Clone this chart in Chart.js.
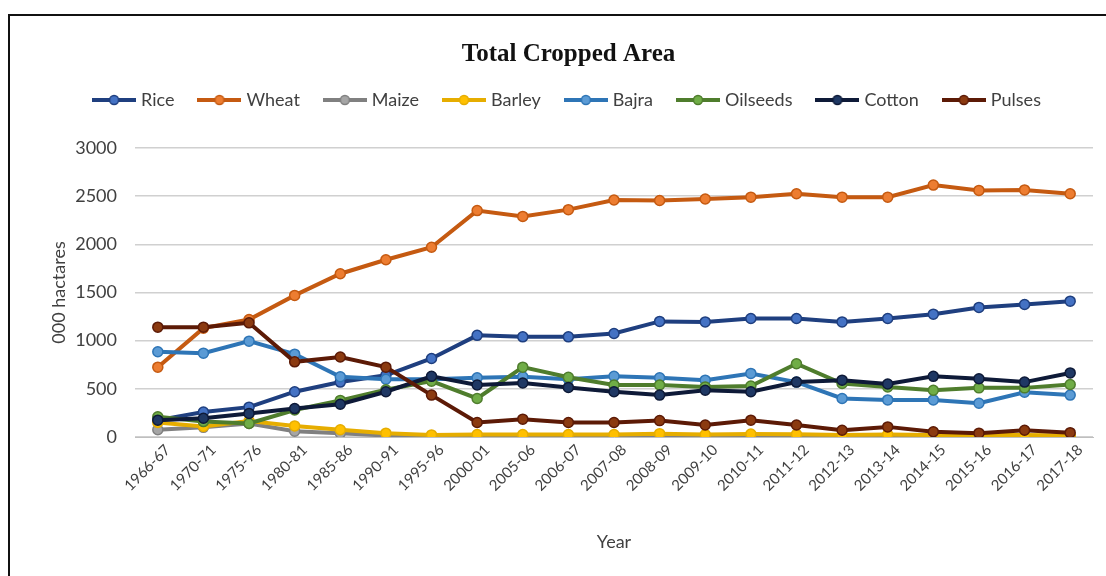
<!DOCTYPE html>
<html>
<head>
<meta charset="utf-8">
<title>Total Cropped Area</title>
<script src="https://cdn.jsdelivr.net/npm/chart.js@4.4.1/dist/chart.umd.min.js"></script>
<style>
  html, body { margin: 0; padding: 0; background: #fff; overflow: hidden; }
  #frame {
    position: absolute; left: 8px; top: 14px; width: 1200px; height: 700px;
    border-left: 2px solid #111; border-top: 2px solid #111; box-sizing: border-box;
  }
  #wrap { position: absolute; left: 0; top: 0; width: 1106px; height: 576px; }
</style>
</head>
<body>
<div id="frame"></div>
<div id="wrap"><canvas id="chart" width="1106" height="576"></canvas></div>
<script>
// Years (x axis categories)
const years = ['1966-67','1970-71','1975-76','1980-81','1985-86','1990-91','1995-96','2000-01',
  '2005-06','2006-07','2007-08','2008-09','2009-10','2010-11','2011-12','2012-13','2013-14',
  '2014-15','2015-16','2016-17','2017-18'];

// Area under each crop, in thousand hectares
const rice     = [175, 260, 310, 470, 570, 640, 815, 1055, 1040, 1040, 1075, 1200, 1195, 1230, 1230, 1195, 1230, 1275, 1345, 1375, 1410];
const wheat    = [725, 1130, 1220, 1470, 1695, 1840, 1970, 2350, 2290, 2360, 2460, 2455, 2470, 2490, 2525, 2490, 2490, 2615, 2560, 2565, 2525];
const maize    = [75, 100, 140, 60, 40, 15, 10, 8, 8, 8, 10, 12, 8, 10, 10, 6, 6, 5, 5, 5, 5];
const barley   = [150, 110, 165, 115, 75, 40, 22, 25, 25, 25, 25, 35, 25, 30, 28, 22, 25, 20, 20, 20, 15];
const bajra    = [885, 870, 995, 860, 625, 600, 600, 615, 625, 600, 630, 615, 590, 660, 570, 400, 385, 385, 350, 465, 435];
const oilseeds = [210, 160, 140, 280, 380, 490, 580, 400, 725, 620, 540, 540, 520, 530, 760, 555, 520, 485, 510, 510, 545];
const cotton   = [175, 195, 245, 295, 340, 470, 630, 540, 560, 515, 470, 435, 485, 470, 570, 590, 550, 630, 605, 570, 665];
const pulses   = [1140, 1140, 1185, 780, 830, 725, 435, 150, 185, 150, 150, 170, 125, 175, 125, 70, 105, 55, 40, 70, 45];

// Y axis ticks
const yTicks = [0, 500, 1000, 1500, 2000, 2500, 3000];

const series = [
  { label: 'Rice',     data: rice,     line: '#1f3f7f', fill: '#4472c4' },
  { label: 'Wheat',    data: wheat,    line: '#c55a11', fill: '#ed7d31' },
  { label: 'Maize',    data: maize,    line: '#808080', fill: '#a5a5a5' },
  { label: 'Barley',   data: barley,   line: '#e6ad00', fill: '#ffc000' },
  { label: 'Bajra',    data: bajra,    line: '#2e75b6', fill: '#5b9bd5' },
  { label: 'Oilseeds', data: oilseeds, line: '#4f7d2d', fill: '#70ad47' },
  { label: 'Cotton',   data: cotton,   line: '#0e1a38', fill: '#1f3864' },
  { label: 'Pulses',   data: pulses,   line: '#5c1a06', fill: '#8b3a10' }
];

const sans = "Lato, 'Open Sans', sans-serif";

// Legend swatch: short line with a marker in the middle
function swatch(line, fill) {
  const c = document.createElement('canvas');
  c.width = 44; c.height = 12;
  const g = c.getContext('2d');
  g.strokeStyle = line; g.lineWidth = 4;
  g.beginPath(); g.moveTo(0, 6); g.lineTo(44, 6); g.stroke();
  g.fillStyle = fill; g.lineWidth = 1.5;
  g.beginPath(); g.arc(22, 6, 4.5, 0, Math.PI * 2); g.fill(); g.stroke();
  return c;
}
const swatches = series.map(s => swatch(s.line, s.fill));

// Extra space between the legend and the plot
const legendGap = {
  id: 'legendGap',
  beforeInit(chart) {
    const fit = chart.legend.fit;
    chart.legend.fit = function () {
      fit.bind(chart.legend)();
      this.height += 29;
    };
  }
};

const n = series.length;
new Chart(document.getElementById('chart'), {
  type: 'line',
  data: {
    labels: years,
    datasets: series.map((s, i) => ({
      label: s.label,
      data: s.data,
      borderColor: s.line,
      backgroundColor: s.fill,
      pointBackgroundColor: s.fill,
      pointBorderColor: s.line,
      pointBorderWidth: 1.5,
      pointRadius: 5,
      borderWidth: 4,
      tension: 0,
      order: n - i
    }))
  },
  plugins: [legendGap],
  options: {
    responsive: false,
    animation: false,
    events: [],
    layout: { padding: { left: 44, right: 13, top: 0, bottom: 17 } },
    plugins: {
      tooltip: { enabled: false },
      title: {
        display: true,
        text: 'Total Cropped Area',
        color: '#111',
        font: { family: "'Liberation Serif', 'DejaVu Serif', serif", size: 25, weight: 'bold' },
        padding: { top: 40, bottom: -6 }
      },
      legend: {
        display: true,
        position: 'top',
        labels: {
          usePointStyle: true,
          pointStyleWidth: 36,
          boxHeight: 12,
          padding: 27,
          color: '#404040',
          font: { family: sans, size: 18 },
          sort: (a, b) => a.datasetIndex - b.datasetIndex,
          generateLabels(chart) {
            const items = Chart.defaults.plugins.legend.labels.generateLabels(chart);
            items.forEach(it => { it.pointStyle = swatches[it.datasetIndex]; });
            return items;
          }
        }
      }
    },
    scales: {
      x: {
        offset: true,
        grid: { display: false, drawTicks: false },
        border: { display: true, color: '#bfbfbf', width: 1 },
        ticks: { color: '#404040', font: { family: sans, size: 15 }, maxRotation: 45, minRotation: 45, padding: 4, labelOffset: 10, autoSkip: false },
        title: { display: true, text: 'Year', color: '#404040', font: { family: sans, size: 18 }, padding: { top: 4, bottom: 6 } },
        afterFit(scale) { scale.height = 122; }
      },
      y: {
        min: 0,
        max: 3000,
        afterBuildTicks(scale) { scale.ticks = yTicks.map(v => ({ value: v })); },
        grid: { color: '#d0d0d0', lineWidth: 1.5, drawTicks: false },
        border: { display: false },
        ticks: { color: '#404040', font: { family: sans, size: 18 }, padding: 18, callback: v => String(v) },
        title: { display: true, text: '000 hactares', color: '#404040', font: { family: sans, size: 18 }, padding: 4 },
        afterFit(scale) { scale.width = 91; }
      }
    }
  }
});
</script>
</body>
</html>
